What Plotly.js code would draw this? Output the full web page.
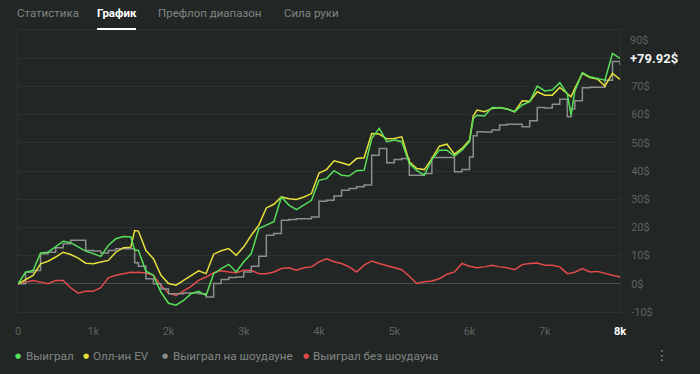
<!DOCTYPE html>
<html>
<head>
<meta charset="utf-8">
<script src="https://cdn.plot.ly/plotly-3.0.1.min.js"></script>
<style>
  html, body { margin: 0; padding: 0; background: #222725; }
  #chart { width: 700px; height: 374px; }
</style>
</head>
<body>
<div id="chart"></div>
<script>
// Hands played (x axis)
const hands = [0,100,200,300,400,500,600,700,800,900,1000,1100,1200,1300,1400,1500,1550,1600,1700,1800,1900,
  2000,2100,2200,2300,2400,2500,2600,2700,2800,2900,3000,3100,3200,3300,3400,3500,3600,3700,3800,3900,
  4000,4100,4200,4300,4400,4500,4600,4700,4800,4900,5000,5100,5200,5300,5400,5500,5600,5700,5800,5900,
  6000,6050,6100,6200,6300,6400,6500,6600,6700,6800,6900,7000,7100,7200,7300,7350,7400,7500,7600,7700,7800,7900,8000];

// Выиграл (net won, $)
const won = [0,4.1,4.7,10.9,11.2,13.0,15.1,14.6,13.0,11.6,10.7,9.7,13.6,16.0,16.8,16.6,12.0,11.8,4.5,3.0,-3.0,
  -6.9,-7.6,-5.9,-3.5,-2.7,-4.1,3.6,5.4,6.9,4.2,7.8,10.7,19.6,20.8,22.0,30.8,27.9,26.3,27.9,29.6,
  36.7,37.3,40.1,38.5,38.2,40.1,40.3,51.5,55.1,50.4,51.0,50.4,42.7,40.1,38.5,44.1,47.4,47.4,45.3,47.4,
  50.4,58.6,59.8,59.5,62.5,62.4,62.0,61.0,63.4,64.6,70.1,68.4,68.7,71.3,67.3,59.8,68.4,74.9,73.4,72.8,72.2,81.7,79.92];

// Олл-ин EV
const allinEV = [0,1.4,3.0,7.1,8.0,9.5,11.2,10.4,9.1,7.3,7.1,7.7,8.3,11.2,12.8,13.0,18.9,18.7,11.8,8.9,3.0,
  0.1,-0.5,1.2,3.0,4.6,3.6,10.5,11.7,12.5,10.1,13.1,17.2,20.8,26.9,28.2,30.8,30.2,29.9,30.8,32.0,
  39.3,40.5,43.6,42.9,42.1,44.4,44.7,53.3,53.1,51.4,51.5,52.1,43.3,40.9,40.5,44.4,48.8,49.5,46.0,48.0,
  50.9,59.5,61.6,61.0,62.2,62.5,62.0,61.0,64.9,64.7,68.1,66.9,66.9,69.6,67.5,66.3,69.3,74.6,73.1,72.6,70.1,74.6,72.5];

// Выиграл на шоудауне
const wonShowdown = [0,4.1,4.7,10.7,11.2,12.8,14.2,15.4,15.4,11.8,11.6,10.9,11.8,12.4,12.4,12.4,7.5,6.2,1.8,0,-1.8,
  -3.5,-3.5,-3.3,-3.3,-3.5,-4.7,0.1,1.5,2.2,2.4,4.2,6.2,9.8,17.2,17.8,22.5,22.8,23.1,23.1,23.7,
  29.3,29.6,31.1,33.2,33.8,34.4,35.0,45.6,48.0,42.9,44.1,44.4,38.5,38.5,39.1,44.8,44.8,44.8,39.7,40.5,
  45.0,52.5,53.9,53.8,54.5,56.3,56.6,56.6,55.7,57.8,62.5,62.3,63.7,65.4,59.2,62.0,64.9,69.5,69.7,69.7,72.2,78.8,77.6];

// Выиграл без шоудауна
const wonNoShowdown = [0,0.6,1.2,0.6,0,1.2,1.2,-1.4,-3.3,-2.6,-2.6,-1.4,2.1,3.0,3.6,4.1,4.0,4.1,3.8,3.0,-0.6,
  -3.3,-4.1,-2.5,-0.9,1.2,2.4,3.9,4.6,4.2,3.9,4.8,4.8,3.6,3.6,4.2,5.4,5.7,4.8,5.7,6.0,
  7.8,8.9,7.8,7.2,6.0,4.2,6.6,8.1,7.2,6.4,5.7,5.0,2.7,0.1,0.7,1.0,1.8,3.4,4.2,7.2,
  6.2,6.0,5.7,6.0,6.6,6.0,5.7,5.0,6.8,7.2,7.4,6.6,6.6,6.0,3.6,3.8,4.1,5.4,4.2,4.4,3.6,3.0,2.4];

const seriesNames = ['Выиграл', 'Олл-ин EV', 'Выиграл на шоудауне', 'Выиграл без шоудауна'];
const tabLabels = ['Статистика', 'График', 'Префлоп диапазон', 'Сила руки'];
const xTickVals = [0,1000,2000,3000,4000,5000,6000,7000,8000];
const xTickText = ['0','1k','2k','3k','4k','5k','6k','7k','8k'];
const yTickVals = [-10,0,10,20,30,40,50,60,70,80,90];
const yTickText = ['-10$','0$','10$','20$','30$','40$','50$','60$','70$','',''];
const finalLabel = '+79.92$';
const topTickLabel = '90$';

const C = { green: '#58e05a', yellow: '#e6e03c', gray: '#8c8e8d', red: '#e34b4b',
            bg: '#222725', grid: '#2d3230', zero: '#4b504e', muted: '#808583', tick: '#5d6260' };

const traces = [
  { x: hands, y: wonNoShowdown, name: seriesNames[3], line: { color: C.red, width: 1.5 } },
  { x: hands, y: wonShowdown, name: seriesNames[2], line: { color: C.gray, width: 1.5, shape: 'hv' } },
  { x: hands, y: allinEV, name: seriesNames[1], line: { color: C.yellow, width: 1.5 } },
  { x: hands, y: won, name: seriesNames[0], line: { color: C.green, width: 1.5 } }
].map(t => Object.assign({ type: 'scatter', mode: 'lines', hoverinfo: 'skip' }, t));

const legendDefs = [
  { dot: 0.0, text: 0.0100, color: C.green, label: seriesNames[0] },
  { dot: 0.113, text: 0.1213, color: C.yellow, label: seriesNames[1] },
  { dot: 0.2442, text: 0.2542, color: C.gray, label: seriesNames[2] },
  { dot: 0.4784, text: 0.4867, color: C.red, label: seriesNames[3] }
];

const annotations = [];
const tabX = [-0.0050, 0.1279, 0.2293, 0.4386];
tabLabels.forEach((t, i) => {
  annotations.push({ xref: 'paper', yref: 'paper', x: tabX[i], y: 1.062, xanchor: 'left', yanchor: 'middle',
    text: i === 1 ? '<b>' + t + '</b>' : t, showarrow: false,
    font: { family: 'Roboto, sans-serif', size: 11.5, color: i === 1 ? '#ffffff' : C.muted } });
});
legendDefs.forEach(d => {
  annotations.push({ xref: 'paper', yref: 'paper', x: d.dot, y: -0.156, xanchor: 'center', yanchor: 'middle',
    text: '●', showarrow: false, font: { family: 'DejaVu Sans', size: 7, color: d.color } });
  annotations.push({ xref: 'paper', yref: 'paper', x: d.text, y: -0.156, xanchor: 'left', yanchor: 'middle',
    text: d.label, showarrow: false, font: { family: 'Roboto, sans-serif', size: 11.7, color: C.muted } });
});
annotations.push({ xref: 'paper', yref: 'paper', x: 1.0698, y: -0.152, xanchor: 'center', yanchor: 'middle',
  text: '⋮', showarrow: false, font: { family: 'DejaVu Sans', size: 14, color: C.muted } });
annotations.push({ xref: 'paper', yref: 'y', x: 1.0133, y: won[won.length - 1], xanchor: 'left', yanchor: 'middle',
  text: '<b>' + finalLabel + '</b>', showarrow: false, font: { family: 'Roboto, sans-serif', size: 13, color: '#f4f4f4' } });
annotations.push({ xref: 'paper', yref: 'paper', x: 1.0133, y: 0.961, xanchor: 'left', yanchor: 'middle',
  text: topTickLabel, showarrow: false, font: { family: 'Roboto, sans-serif', size: 11, color: C.tick } });

const layout = {
  width: 700, height: 374,
  paper_bgcolor: C.bg, plot_bgcolor: C.bg,
  margin: { l: 18, r: 80, t: 30, b: 62, pad: 0 },
  showlegend: false,
  font: { family: 'Roboto, sans-serif', color: C.tick },
  xaxis: {
    range: [0, 8000], showgrid: false, zeroline: false,
    tickmode: 'array', tickvals: xTickVals,
    ticktext: xTickText.map((t, i) => i === xTickText.length - 1 ? '<span style="color:#ffffff"><b>' + t + '</b></span>' : t),
    tickfont: { size: 11, color: C.tick }, ticks: '', ticklabelstandoff: 9,
    showline: true, mirror: true, linecolor: C.grid, linewidth: 1, fixedrange: true
  },
  yaxis: {
    range: [-10, 90], side: 'right', showgrid: true, gridcolor: C.grid, gridwidth: 1,
    zeroline: true, zerolinecolor: C.zero, zerolinewidth: 1,
    tickmode: 'array', tickvals: yTickVals, ticktext: yTickText,
    tickfont: { size: 11, color: C.tick }, ticks: '', ticklabelstandoff: 8,
    showline: true, mirror: true, linecolor: C.grid, linewidth: 1, fixedrange: true
  },
  shapes: [
    { type: 'line', xref: 'paper', yref: 'paper', x0: 0.1312, x1: 0.1960, y0: 1.0035, y1: 1.0035,
      line: { color: '#ffffff', width: 2 } }
  ],
  annotations: annotations
};

Plotly.newPlot('chart', traces, layout, { displayModeBar: false, staticPlot: true });
</script>
</body>
</html>
